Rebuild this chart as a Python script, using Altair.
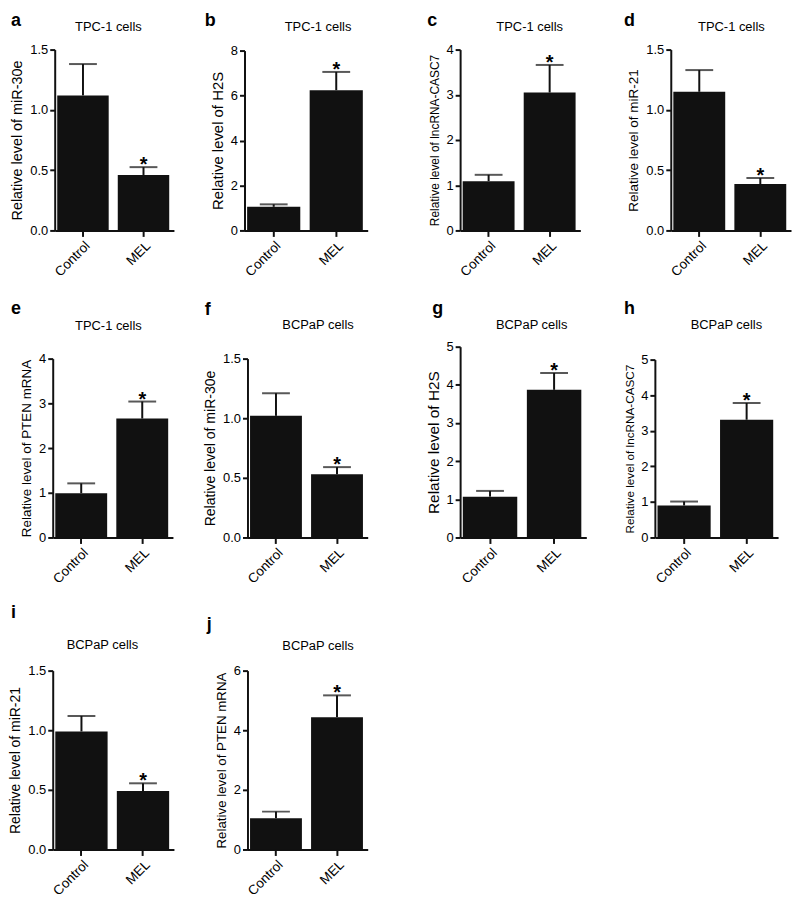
import altair as alt
import pandas as pd

# ---------------- data ----------------
panel_letters = ["a", "b", "c", "d", "e", "f", "g", "h", "i", "j"]
cell_lines = ["TPC-1 cells"] * 5 + ["BCPaP cells"] * 5
y_titles = [
    "Relative level of miR-30e",
    "Relative level of H2S",
    "Relative level of lncRNA-CASC7",
    "Relative level of miR-21",
    "Relative level of PTEN mRNA",
    "Relative level of miR-30e",
    "Relative level of H2S",
    "Relative level of lncRNA-CASC7",
    "Relative level of miR-21",
    "Relative level of PTEN mRNA",
]
groups = ["Control", "MEL"]
significance = ["", "*"]
control_mean = [1.12, 1.05, 1.09, 1.15, 0.99, 1.02, 1.07, 0.90, 0.99, 1.05]
control_err = [0.26, 0.11, 0.14, 0.18, 0.22, 0.19, 0.15, 0.11, 0.13, 0.22]
mel_mean = [0.46, 6.24, 3.05, 0.385, 2.66, 0.53, 3.87, 3.31, 0.49, 4.44]
mel_err = [0.065, 0.81, 0.61, 0.05, 0.38, 0.06, 0.44, 0.47, 0.065, 0.73]
y_max = [1.5, 8, 4, 1.5, 4, 1.5, 5, 5, 1.5, 6]
y_ticks = [
    [0, 0.5, 1.0, 1.5],
    [0, 2, 4, 6, 8],
    [0, 1, 2, 3, 4],
    [0, 0.5, 1.0, 1.5],
    [0, 1, 2, 3, 4],
    [0, 0.5, 1.0, 1.5],
    [0, 1, 2, 3, 4, 5],
    [0, 1, 2, 3, 4, 5],
    [0, 0.5, 1.0, 1.5],
    [0, 2, 4, 6],
]
y_format = [".1f", "d", "d", ".1f", "d", ".1f", "d", "d", ".1f", "d"]

# ---------------- layout (page pixels) ----------------
COL_START = [50, 243, 460, 656]
COL_W = [193, 217, 196, 137]
ROW_TOP = [46, 345, 654]
ROW_H = [182, 192, 197]
ROW_GAP = 117
plot_x0 = [52, 243, 460, 672, 50, 246, 460, 656, 50, 246]
plot_w = [120, 124, 121, 121, 121, 121, 127, 124, 122, 121]
plot_top = [46, 47, 46, 46, 357, 357, 345, 358, 671, 671]
letter_pos = [(8, 22), (203, 22), (427, 22), (625, 22), (8, 312), (203, 313),
              (432, 312), (625, 312), (8, 618), (205, 630)]
title_pos = [(106, 27), (317, 27), (530, 27), (733, 27), (106, 328), (317, 327),
             (532, 327), (728, 327), (100, 649), (317, 650)]
ytitle_size = [14.5, 15, 12, 13.6, 13.5, 14.1, 15.5, 11.8, 14, 13.4]

FONT = "Liberation Sans"
INK = "#111111"


def panel(k):
    r, c = k // 4, k % 4
    cx, cy = COL_START[c], ROW_TOP[r]
    cw, ch = COL_W[c], ROW_H[r]
    shift = plot_x0[k] - cx
    top = plot_top[k] - cy

    df = pd.DataFrame({
        "group": groups,
        "mean": [control_mean[k], mel_mean[k]],
        "top": [control_mean[k] + control_err[k], mel_mean[k] + mel_err[k]],
        "star": significance,
    })

    xscale = alt.Scale(domain=groups, range=[shift, shift + plot_w[k]],
                       paddingInner=0.15, paddingOuter=0.06, align=0.35)
    xaxis = alt.Axis(title=None, labelAngle=-45, labelFontSize=13.5,
                     labelColor="black", labelFont=FONT, domainColor=INK,
                     domainWidth=2, tickColor=INK, tickWidth=2, tickSize=6,
                     labelPadding=2)
    yscale = alt.Scale(domain=[0, y_max[k]], range=[ch, top], nice=False)
    yaxis = alt.Axis(title=y_titles[k], values=y_ticks[k], format=y_format[k],
                     grid=False, offset=-shift, labelFontSize=13,
                     labelColor="black", labelFont=FONT, domainColor=INK,
                     domainWidth=2, tickColor=INK, tickWidth=2, tickSize=5,
                     labelPadding=2, titleFont=FONT, titleFontSize=ytitle_size[k],
                     titleFontWeight="normal", titleColor="black", titlePadding=5)

    X = alt.X("group:N", scale=xscale, axis=xaxis, sort=groups)

    def Y(f):
        return alt.Y(f"{f}:Q", scale=yscale, axis=yaxis)

    base = alt.Chart(df)
    bars = base.mark_bar(color=INK).encode(x=X, y=Y("mean"))
    err = base.mark_rule(color=INK, strokeWidth=2).encode(x=X, y=Y("mean"), y2="top:Q")
    cap = base.mark_tick(color=INK, thickness=2, size=28).encode(x=X, y=Y("top"))
    star = base.mark_text(fontSize=20, fontWeight="bold", font=FONT, color="black",
                          baseline="alphabetic", dy=4).encode(x=X, y=Y("top"), text="star:N")

    lab = pd.DataFrame({"letter": [panel_letters[k]], "title": [cell_lines[k]]})
    letter = alt.Chart(lab).mark_text(align="left", baseline="alphabetic", fontSize=18,
                                      fontWeight="bold", font=FONT, color="black").encode(
        x=alt.value(letter_pos[k][0] - cx), y=alt.value(letter_pos[k][1] - cy), text="letter:N")
    title = alt.Chart(lab).mark_text(align="center", baseline="alphabetic", fontSize=13,
                                     font=FONT, color="black").encode(
        x=alt.value(title_pos[k][0] - cx), y=alt.value(title_pos[k][1] - cy), text="title:N")

    return alt.layer(bars, err, cap, star, letter, title).properties(width=cw, height=ch)


chart = alt.concat(
    *[panel(k) for k in range(10)],
    columns=4,
    spacing={"row": ROW_GAP, "column": 0},
    bounds="flush",
    align="each",
).properties(
    padding={"left": 0, "top": 0, "right": 0, "bottom": 0}
).configure(font=FONT).configure_view(stroke="transparent")

chart.save("out.html", embed_options={"renderer": "svg", "actions": False})
